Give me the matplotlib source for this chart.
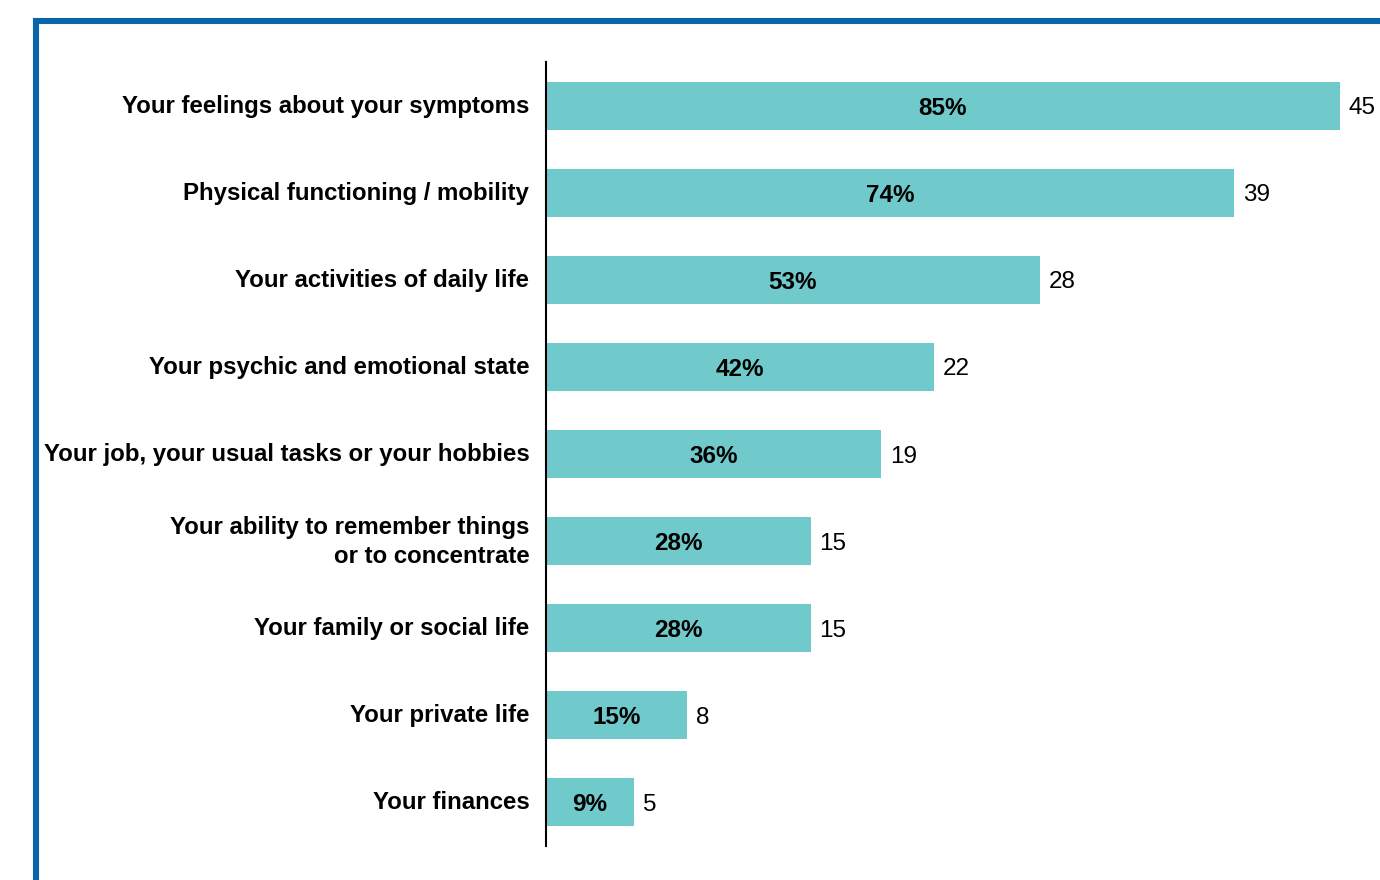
import matplotlib.pyplot as plt
import matplotlib.transforms as mtransforms
from matplotlib.lines import Line2D

plt.rcParams['font.family'] = ['Liberation Sans', 'DejaVu Sans']

categories = [
    "Your feelings about your symptoms",
    "Physical functioning / mobility",
    "Your activities of daily life",
    "Your psychic and emotional state",
    "Your job, your usual tasks or your hobbies",
    "Your ability to remember things\nor to concentrate",
    "Your family or social life",
    "Your private life",
    "Your finances",
]
counts = [45, 39, 28, 22, 19, 15, 15, 8, 5]
percents = [85, 74, 53, 42, 36, 28, 28, 15, 9]

W, H = 1380, 880
fig = plt.figure(figsize=(W / 100, H / 100), dpi=100)

# axes placed in pixel terms: y axis line at x=546, rows from y=62 to y=846
ax = fig.add_axes([546 / W, (H - 846) / H, (W - 546) / W, 784 / H])

ypos = list(range(len(categories)))
ax.barh(ypos, counts, height=0.55, color='#70CACB', zorder=2)
ax.set_ylim(len(categories) - 0.5, -0.5)
ax.set_xlim(0, (W - 546) / 17.64)

for y, c, p in zip(ypos, counts, percents):
    ax.text(c / 2, y, f"{p}%", ha='center', va='center_baseline', fontsize=17.5,
            fontweight='bold', color='black')
    ax.text(c + 0.5, y, f"{c}", ha='left', va='center_baseline', fontsize=17.5,
            color='black', clip_on=False)

ax.set_yticks(ypos)
ax.set_yticklabels(categories, fontsize=17.3, fontweight='bold',
                   ha='right', multialignment='right', linespacing=1.35)
ax.tick_params(axis='y', length=0, pad=12)
# nudge the category labels up a touch, the two-line one a bit more
for lbl in ax.get_yticklabels():
    dy = 5 if '\n' in lbl.get_text() else 2
    lbl.set_transform(lbl.get_transform() +
                      mtransforms.ScaledTranslation(0, dy / 100, fig.dpi_scale_trans))
ax.set_xticks([])
for side in ['top', 'right', 'bottom']:
    ax.spines[side].set_visible(False)
ax.spines['left'].set_linewidth(1.5)
ax.spines['left'].set_color('black')

# blue frame along the top and left edges
frame = Line2D([36 / W, 36 / W, 1.0], [0.0, 1 - 21 / H, 1 - 21 / H],
               transform=fig.transFigure, color='#0765A8', linewidth=4.4,
               solid_joinstyle='miter')
fig.add_artist(frame)

fig.savefig('out.png', dpi=100)
